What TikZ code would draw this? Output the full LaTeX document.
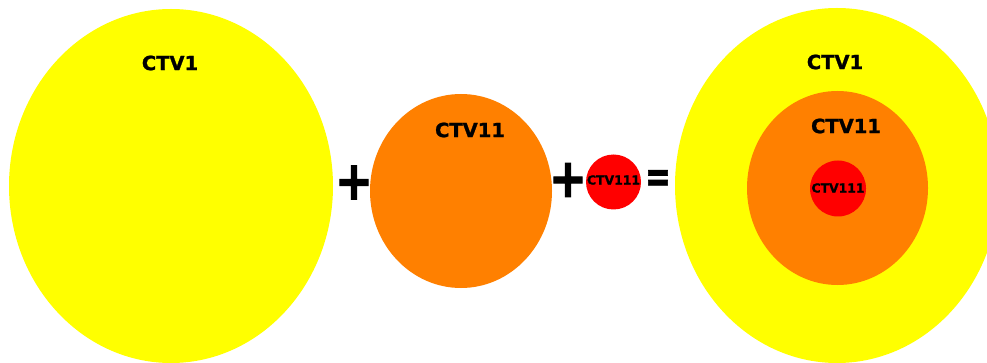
\documentclass[tikz,border=0pt]{standalone}
\usepackage{fontspec}
\setmainfont{DejaVu Sans}
\newfontfamily\heavyfont[FakeBold=1.2]{DejaVu Sans Bold}
\newfontfamily\heavierfont[FakeBold=2]{DejaVu Sans Bold}
\definecolor{cyellow}{HTML}{FFFF00}
\definecolor{corange}{HTML}{FF8000}
\definecolor{cred}{HTML}{FF0000}
\tikzset{
  lbl/.style={font=\heavyfont\fontsize{19.5}{19.5}\selectfont, inner sep=0pt},
  lblsmall/.style={font=\heavyfont\fontsize{12.4}{12.4}\selectfont, inner sep=0pt},
  op/.style={font=\heavierfont\fontsize{45}{45}\selectfont, inner sep=0pt, yscale=1.2},
  opeq/.style={font=\heavierfont\fontsize{44}{44}\selectfont, inner sep=0pt, xscale=0.7}
}
\begin{document}
\begin{tikzpicture}[x=1pt,y=-1pt]
\useasboundingbox (0,0) rectangle (987,363);
\clip (0,0) rectangle (987,363);
% left group
\fill[cyellow] (171,186) ellipse [x radius=162, y radius=177];
\fill[corange] (461,191) ellipse [x radius=91, y radius=97];
\fill[cred] (613.5,182) circle [radius=27.5];
% right group
\fill[cyellow] (837,185.5) ellipse [x radius=162, y radius=177.5];
\fill[corange] (837.5,188) ellipse [x radius=90.5, y radius=97];
\fill[cred] (838,188.5) circle [radius=28];
% labels
\node[lbl] (l1) at (170,63) {CTV1};
\node[lbl] (l11) at (470,130) {CTV11};
\node[lblsmall] (l111) at (613.5,180) {CTV111};
\node[lbl] (r1) at (835,62) {CTV1};
\node[lbl] (r11) at (846,126) {CTV11};
\node[lblsmall] (r111) at (838,188) {CTV111};
% operators
\node[op] (p1) at (354,182.5) {+};
\node[op] (p2) at (568,180) {+};
\node[opeq] (eq) at (658,181) {=};
\end{tikzpicture}
\end{document}
